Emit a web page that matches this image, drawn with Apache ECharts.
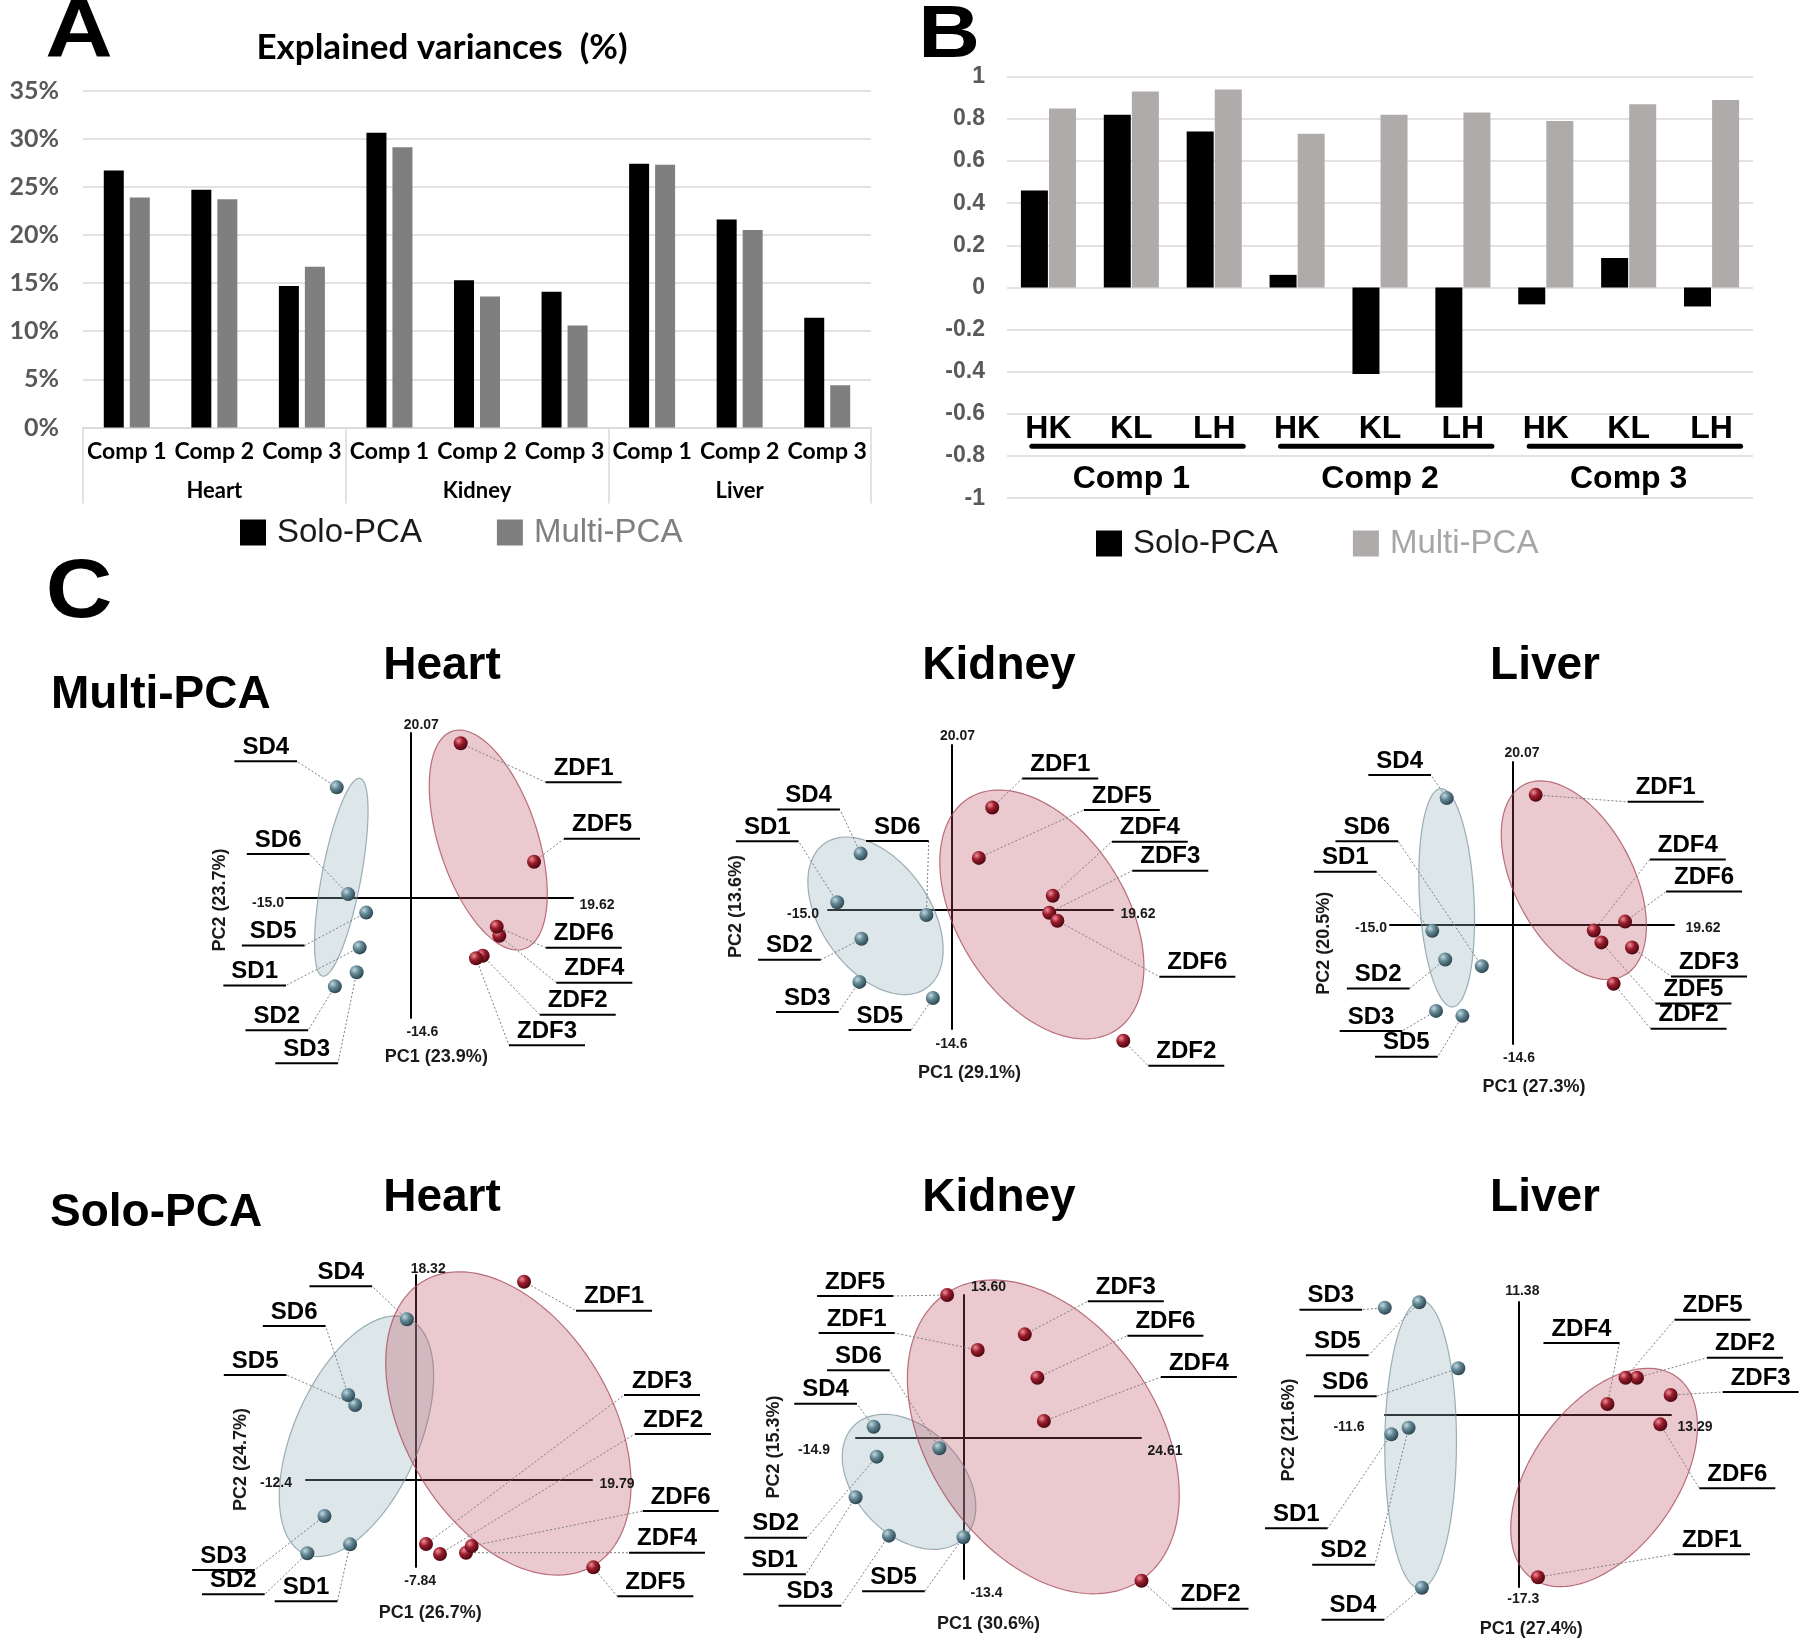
<!DOCTYPE html>
<html>
<head>
<meta charset="utf-8">
<title>Solo-PCA vs Multi-PCA</title>
<script src="https://cdn.jsdelivr.net/npm/echarts@6/dist/echarts.min.js"></script>
<style>
html, body { margin: 0; padding: 0; background: #fff; }
#main { width: 1800px; height: 1642px; }
</style>
</head>
<body>
<div id="main"></div>
<script>
// ---- A: explained variances (%), organ x component
const organs = ['Heart', 'Kidney', 'Liver'];
const comps = ['Comp 1', 'Comp 2', 'Comp 3'];
const soloVar  = [26.7, 24.7, 14.7, 30.6, 15.3, 14.1, 27.4, 21.6, 11.4];
const multiVar = [23.9, 23.7, 16.7, 29.1, 13.6, 10.6, 27.3, 20.5, 4.4];

// ---- B: correlations between organ pairs, per component
const pairs = ['HK', 'KL', 'LH'];
const soloCorr  = [0.46, 0.82, 0.74, 0.06, -0.41, -0.57, -0.08, 0.14, -0.09];
const multiCorr = [0.85, 0.93, 0.94, 0.73, 0.82, 0.83, 0.79, 0.87, 0.89];

// ---- C: PCA scores [PC1, PC2], samples 1..6
const sdNames  = ['SD1', 'SD2', 'SD3', 'SD4', 'SD5', 'SD6'];
const zdfNames = ['ZDF1', 'ZDF2', 'ZDF3', 'ZDF4', 'ZDF5', 'ZDF6'];

const multiHeartSD   = [[-6.11, -6.01], [-9.11, -10.75], [-6.48, -9.04], [-8.88, 13.46], [-5.33, -1.78], [-7.50, 0.47]];
const multiHeartZDF  = [[6.07, 18.82], [8.73, -7.02], [7.92, -7.34], [10.73, -4.59], [14.92, 4.41], [10.42, -3.49]];
const multiKidneySD  = [[-13.88, 0.87], [-10.94, -3.59], [-11.19, -8.85], [-11.04, 6.81], [-2.26, -10.81], [-3.05, -0.68]];
const multiKidneyZDF = [[4.95, 12.44], [20.87, -16.03], [11.88, -0.40], [12.30, 1.67], [3.32, 6.29], [12.86, -1.38]];
const multiLiverSD   = [[-9.85, -0.69], [-8.27, -4.22], [-9.39, -10.53], [-8.09, 15.63], [-6.18, -11.14], [-3.81, -5.03]];
const multiLiverZDF  = [[2.76, 16.03], [12.26, -7.19], [14.50, -2.73], [9.84, -0.64], [10.77, -2.11], [13.66, 0.45]];
const soloHeartSD    = [[-7.44, -5.81], [-12.25, -6.61], [-10.32, -3.27], [-1.05, 14.35], [-6.87, 6.67], [-7.65, 7.57]];
const soloHeartZDF   = [[12.14, 17.72], [2.68, -6.67], [1.11, -5.78], [5.61, -6.56], [19.94, -7.87], [6.25, -5.96]];
const soloKidneySD   = [[-14.96, -5.63], [-12.03, -1.77], [-10.34, -9.28], [-12.46, 1.08], [0.0, -9.43], [-3.34, -0.97]];
const soloKidneyZDF  = [[1.97, 8.37], [24.68, -13.56], [8.50, 9.86], [11.15, 1.62], [-2.27, 13.60], [10.25, 5.74]];
const soloLiverSD    = [[-11.05, -1.93], [-9.55, -1.27], [-11.62, 10.81], [-8.39, -17.37], [-8.62, 11.35], [-5.22, 4.71]];
const soloLiverZDF   = [[1.71, -16.32], [10.33, 3.76], [13.26, 2.02], [7.76, 1.12], [9.33, 3.76], [12.36, -0.93]];

// group ellipses: [centre PC1, centre PC2, half-width PC1, half-height PC2, correlation]  (SD, ZDF)
const multiHeartEll  = [[-8.33, 2.52, 3.23, 12.04, 0.67], [9.40, 7.05, 7.12, 13.38, -0.49]];
const multiKidneyEll = [[-9.23, -0.78, 8.22, 9.62, -0.43], [10.98, -0.62, 12.40, 15.20, -0.42]];
const multiLiverEll  = [[-8.09, 3.38, 3.40, 13.42, -0.20], [7.41, 5.54, 8.85, 12.21, -0.46]];
const soloHeartEll   = [[-6.72, 3.87, 8.69, 10.78, 0.50], [10.38, 5.02, 13.81, 13.59, -0.40]];
const soloKidneyEll  = [[-7.55, -4.16, 9.26, 6.42, -0.37], [11.07, 0.11, 18.85, 14.92, -0.37]];
const soloLiverEll   = [[-8.50, -2.96, 3.12, 14.47, 0.02], [7.47, -6.28, 8.13, 10.99, 0.47]];

// axis extents [min, max]
const multiPC1 = [-15.0, 19.62], multiPC2 = [-14.6, 20.07];
const soloHeartPC1 = [-12.4, 19.79], soloHeartPC2 = [-7.84, 18.32];
const soloKidneyPC1 = [-14.9, 24.61], soloKidneyPC2 = [-13.4, 13.60];
const soloLiverPC1 = [-11.6, 13.29], soloLiverPC2 = [-17.3, 11.38];

const plots = [
  { sd: multiHeartSD, zdf: multiHeartZDF, ell: multiHeartEll, xr: multiPC1, yr: multiPC2, v: multiVar, o: 0 },
  { sd: multiKidneySD, zdf: multiKidneyZDF, ell: multiKidneyEll, xr: multiPC1, yr: multiPC2, v: multiVar, o: 1 },
  { sd: multiLiverSD, zdf: multiLiverZDF, ell: multiLiverEll, xr: multiPC1, yr: multiPC2, v: multiVar, o: 2 },
  { sd: soloHeartSD, zdf: soloHeartZDF, ell: soloHeartEll, xr: soloHeartPC1, yr: soloHeartPC2, v: soloVar, o: 0 },
  { sd: soloKidneySD, zdf: soloKidneyZDF, ell: soloKidneyEll, xr: soloKidneyPC1, yr: soloKidneyPC2, v: soloVar, o: 1 },
  { sd: soloLiverSD, zdf: soloLiverZDF, ell: soloLiverEll, xr: soloLiverPC1, yr: soloLiverPC2, v: soloVar, o: 2 }
];

// ---- layout (pixels): grid rect, axis-text offsets, label offsets from each point
const plotLayout = [
  { grid: [286, 733, 287, 285],
    ends: { top: [11, -8], left: [-18, 5], right: [24, 7], bottom: [12, 14], pc1: [26, 39], pc2: [-66, 2] },
    labels: [[-105, 38], [-58, 44], [-50, 91], [-71, -26], [-93, 33], [-70, -40],
             [123, 39], [95, 59], [71, 87], [95, 47], [68, -23], [87, 21]] },
  { grid: [828, 745, 285, 284],
    ends: { top: [6, -9], left: [-25, 5], right: [25, 5], bottom: [0, 15], pc1: [18, 44], pc2: [-92, -3] },
    labels: [[-70, -61], [-72, 21], [-52, 30], [-52, -44], [-53, 32], [-29, -74],
             [68, -29], [63, 25], [121, -42], [97, -54], [143, -48], [140, 56]] },
  { grid: [1390, 762, 284, 282],
    ends: { top: [9, -9], left: [-19, 3], right: [29, 3], bottom: [6, 14], pc1: [21, 43], pc2: [-66, 18] },
    labels: [[-87, -59], [-67, 29], [-65, 20], [-47, -23], [-56, 41], [-115, -125],
             [130, 7], [75, 45], [77, 29], [94, -71], [92, 61], [79, -30]] },
  { grid: [306, 1275, 286, 292],
    ends: { top: [12, -6], left: [-30, 4], right: [25, 5], bottom: [4, 14], pc1: [14, 46], pc2: [-65, -20] },
    labels: [[-44, 57], [-74, 41], [-101, 54], [-66, -33], [-100, -30], [-54, -69],
             [90, 29], [233, -120], [236, -149], [201, 0], [62, 29], [209, -35]] },
  { grid: [856, 1295, 285, 284],
    ends: { top: [25, -8], left: [-42, 12], right: [24, 13], bottom: [23, 14], pc1: [25, 45], pc2: [-82, 9] },
    labels: [[-81, 77], [-101, 81], [-79, 70], [-48, -23], [-70, 54], [-81, -78],
             [-121, -17], [69, 28], [101, -33], [155, -44], [-92, 1], [128, -42]] },
  { grid: [1385, 1302, 286, 285],
    ends: { top: [4, -11], left: [-36, 12], right: [24, 12], bottom: [5, 12], pc1: [13, 42], pc2: [-96, 15] },
    labels: [[-95, 94], [-65, 137], [-54, 2], [-69, 32], [-82, 53], [-113, 28],
             [174, -23], [108, -20], [90, -3], [-26, -61], [87, -58], [77, 64]] }
];

const ARIAL = '"Liberation Sans", Arial, Helvetica, sans-serif';
const CALI = 'Lato, "Liberation Sans", sans-serif';
const LABEL_FONT = 'bold 24px ' + ARIAL;
const TICK_FONT = 'bold 14px ' + ARIAL;
const PC_FONT = 'bold 18px ' + ARIAL;

const sdBall = new echarts.graphic.RadialGradient(0.35, 0.32, 0.7, [
  { offset: 0, color: '#c4d8de' }, { offset: 0.45, color: '#628795' }, { offset: 1, color: '#2c4650' }]);
const zdfBall = new echarts.graphic.RadialGradient(0.35, 0.32, 0.7, [
  { offset: 0, color: '#ef8f98' }, { offset: 0.45, color: '#9a1c2c' }, { offset: 1, color: '#4a0710' }]);

const measureCtx = document.createElement('canvas').getContext('2d');
function textWidth(s, font) { measureCtx.font = font; return measureCtx.measureText(s).width; }

function txt(text, x, y, font, align, fill, rotation, scaleX) {
  return {
    type: 'text', x: x, y: y, rotation: rotation || 0, scaleX: scaleX || 1, silent: true,
    style: { text: text, x: 0, y: 0, font: font, fill: fill || '#000',
      align: align || 'center', verticalAlign: 'middle',
      textAlign: align || 'center', textVerticalAlign: 'middle' }
  };
}

function ellipseItem(params, api) {
  const cx = api.value(0), cy = api.value(1), hx = api.value(2), hy = api.value(3), r = api.value(4);
  const k = Math.sqrt(1 - r * r);
  const pts = [];
  for (let j = 0; j < 120; j++) {
    const t = j / 120 * Math.PI * 2, c = Math.cos(t), s = Math.sin(t);
    pts.push(api.coord([cx + hx * c, cy + hy * (r * c + k * s)]));
  }
  const zdf = params.dataIndex === 1;
  return {
    type: 'polygon', shape: { points: pts },
    style: zdf
      ? { fill: 'rgba(185, 80, 95, 0.30)', stroke: 'rgba(165, 70, 85, 0.75)', lineWidth: 1.2 }
      : { fill: 'rgba(150, 178, 188, 0.32)', stroke: 'rgba(120, 145, 155, 0.7)', lineWidth: 1.2 }
  };
}

function labelItem(params, api, names, offs) {
  const i = params.dataIndex;
  const pt = api.coord([api.value(0), api.value(1)]);
  const ux = pt[0] + offs[i][0], uy = pt[1] + offs[i][1];
  const w = textWidth(names[i], LABEL_FONT) + 16;
  const endX = pt[0] > ux ? ux + w / 2 : ux - w / 2;
  return {
    type: 'group', children: [
      { type: 'line', shape: { x1: pt[0], y1: pt[1], x2: endX, y2: uy },
        style: { stroke: '#808080', lineWidth: 1, lineDash: [2, 2] } },
      { type: 'line', shape: { x1: ux - w / 2, y1: uy, x2: ux + w / 2, y2: uy },
        style: { stroke: '#000', lineWidth: 2 } },
      txt(names[i], ux, uy - 14, LABEL_FONT)
    ]
  };
}

function axisTextItem(api, p, e) {
  const top = api.coord([0, p.yr[1]]), bot = api.coord([0, p.yr[0]]);
  const left = api.coord([p.xr[0], 0]), right = api.coord([p.xr[1], 0]);
  const at = (a, off) => [a[0] + off[0], a[1] + off[1]];
  const lo = v => v.toPrecision(3), hi = v => v.toPrecision(4);
  const list = [
    [hi(p.yr[1]), at(top, e.top), TICK_FONT, 0],
    [lo(p.xr[0]), at(left, e.left), TICK_FONT, 0],
    [hi(p.xr[1]), at(right, e.right), TICK_FONT, 0],
    [lo(p.yr[0]), at(bot, e.bottom), TICK_FONT, 0],
    ['PC1 (' + p.v[p.o * 3].toFixed(1) + '%)', at(bot, e.pc1), PC_FONT, 0],
    ['PC2 (' + p.v[p.o * 3 + 1].toFixed(1) + '%)', at(left, e.pc2), PC_FONT, Math.PI / 2]
  ];
  return { type: 'group', children: list.map(d => txt(d[0], d[1][0], d[1][1], d[2], 'center', '#1a1a1a', d[3])) };
}

// ---- categories
const varCats = [];
organs.forEach(o => comps.forEach(c => varCats.push(o + '|' + c)));
const corrCats = [];
comps.forEach(c => pairs.forEach(p => corrCats.push(c + '|' + p)));

const gridLine = { lineStyle: { color: '#d9d9d9', width: 1.5 } };

const grids = [
  { left: 83, top: 90.5, width: 788, height: 337 },
  { left: 1007, top: 76.8, width: 746, height: 421.4 }
];
const xAxes = [
  { type: 'category', gridIndex: 0, data: varCats,
    axisLine: { onZero: false, lineStyle: { color: '#d9d9d9', width: 1.5 } }, axisTick: { show: false },
    axisLabel: { interval: 0, margin: 13, formatter: v => v.split('|')[1], color: '#000',
      fontFamily: CALI, fontWeight: 'bold', fontSize: 23 } },
  { type: 'category', gridIndex: 0, position: 'bottom', data: organs,
    axisLine: { show: false, onZero: false },
    axisTick: { show: true, length: 76, interval: 0, lineStyle: { color: '#d9d9d9', width: 1.5 } },
    axisLabel: { margin: 52, color: '#000', fontFamily: CALI, fontWeight: 'bold', fontSize: 22 } },
  { type: 'category', gridIndex: 1, position: 'bottom', offset: -93, data: corrCats,
    axisLine: { show: false, onZero: false }, axisTick: { show: false },
    axisLabel: { interval: 0, margin: 8, formatter: v => v.split('|')[1], color: '#000',
      fontFamily: ARIAL, fontWeight: 'bold', fontSize: 32 } },
  { type: 'category', gridIndex: 1, position: 'bottom', offset: -43, data: comps,
    axisLine: { show: false, onZero: false }, axisTick: { show: false },
    axisLabel: { margin: 8, color: '#000', fontFamily: ARIAL, fontWeight: 'bold', fontSize: 32 } }
];
const yAxes = [
  { type: 'value', gridIndex: 0, min: 0, max: 35, interval: 5,
    axisLine: { show: false }, axisTick: { show: false }, splitLine: gridLine,
    axisLabel: { formatter: '{value}%', margin: 24, color: '#595959', fontFamily: CALI, fontWeight: 'bold', fontSize: 25 } },
  { type: 'value', gridIndex: 1, min: -1, max: 1, interval: 0.2,
    axisLine: { show: false }, axisTick: { show: false }, splitLine: gridLine,
    axisLabel: { formatter: v => String(+v.toFixed(1)), margin: 22, color: '#595959',
      fontFamily: ARIAL, fontWeight: 'bold', fontSize: 23 } }
];

const series = [
  { type: 'bar', name: 'Solo-PCA', xAxisIndex: 0, yAxisIndex: 0, data: soloVar,
    barWidth: 20, barGap: '30%', itemStyle: { color: '#000' } },
  { type: 'bar', name: 'Multi-PCA', xAxisIndex: 0, yAxisIndex: 0, data: multiVar,
    barWidth: 20, barGap: '30%', itemStyle: { color: '#7f7f7f' } },
  { type: 'bar', name: 'Solo-PCA (B)', xAxisIndex: 2, yAxisIndex: 1, data: soloCorr,
    barWidth: 27, barGap: '4%', itemStyle: { color: '#000' } },
  { type: 'bar', name: 'Multi-PCA (B)', xAxisIndex: 2, yAxisIndex: 1, data: multiCorr,
    barWidth: 27, barGap: '4%', itemStyle: { color: '#afabab' } },
  { type: 'custom', name: 'group rule', xAxisIndex: 2, yAxisIndex: 1, silent: true, clip: false, z: 3,
    data: comps.map((c, g) => [g * pairs.length, g * pairs.length + pairs.length - 1]),
    renderItem: (params, api) => {
      const a = api.coord([api.value(0), 0]), b = api.coord([api.value(1), 0]);
      const bw = api.size([1, 0])[0];
      const y = api.coord([0, -1])[1] - 52;
      return { type: 'line', shape: { x1: a[0] - 0.2 * bw, y1: y, x2: b[0] + 0.35 * bw, y2: y },
        style: { stroke: '#000', lineWidth: 5, lineCap: 'round' } };
    } }
];

plots.forEach((p, i) => {
  const L = plotLayout[i];
  const gi = grids.length;
  grids.push({ left: L.grid[0], top: L.grid[1], width: L.grid[2], height: L.grid[3] });
  const axisBase = {
    type: 'value', gridIndex: gi,
    axisLine: { show: true, onZero: true, lineStyle: { color: '#000', width: 2 } },
    axisTick: { show: false }, axisLabel: { show: false }, splitLine: { show: false }
  };
  const xi = xAxes.length, yi = yAxes.length;
  xAxes.push(Object.assign({ min: p.xr[0], max: p.xr[1] }, axisBase));
  yAxes.push(Object.assign({ min: p.yr[0], max: p.yr[1] }, axisBase));
  const names = sdNames.concat(zdfNames);
  series.push(
    { type: 'custom', name: 'ellipse' + i, xAxisIndex: xi, yAxisIndex: yi, z: 1, silent: true, clip: false,
      data: p.ell, renderItem: ellipseItem },
    { type: 'custom', name: 'labels' + i, xAxisIndex: xi, yAxisIndex: yi, z: 3, silent: true, clip: false,
      data: p.sd.concat(p.zdf), renderItem: (params, api) => labelItem(params, api, names, L.labels) },
    { type: 'custom', name: 'axis text' + i, xAxisIndex: xi, yAxisIndex: yi, z: 3, silent: true, clip: false,
      data: [[0, 0]], renderItem: (params, api) => axisTextItem(api, p, L.ends) },
    { type: 'scatter', name: 'SD' + i, xAxisIndex: xi, yAxisIndex: yi, z: 5, clip: false,
      symbolSize: 14, data: p.sd, itemStyle: { color: sdBall, opacity: 1 } },
    { type: 'scatter', name: 'ZDF' + i, xAxisIndex: xi, yAxisIndex: yi, z: 5, clip: false,
      symbolSize: 14, data: p.zdf, itemStyle: { color: zdfBall, opacity: 1 } }
  );
});

const legendBase = {
  icon: 'rect', itemWidth: 26, itemHeight: 26, itemGap: 75, selectedMode: false,
  formatter: n => n.replace(' (B)', ''),
  textStyle: { fontFamily: ARIAL, fontSize: 33, padding: [0, 0, 0, 6] }
};

const graphics = [
  txt('A', 79, 33, 'bold 82px ' + ARIAL, 'center', '#000', 0, 1.14),
  txt('B', 949, 36, 'bold 75px ' + ARIAL, 'center', '#000', 0, 1.14),
  txt('C', 79, 594, 'bold 84px ' + ARIAL, 'center', '#000', 0, 1.1),
  txt('Explained variances  (%)', 442, 48, 'bold 35px ' + CALI),
  txt('Multi-PCA', 51, 695, 'bold 46px ' + ARIAL, 'left'),
  txt('Solo-PCA', 50, 1213, 'bold 46px ' + ARIAL, 'left')
];
const organX = [442, 999, 1545];
organs.forEach((o, k) => {
  graphics.push(txt(o, organX[k], 666, 'bold 46px ' + ARIAL));
  graphics.push(txt(o, organX[k], 1198, 'bold 46px ' + ARIAL));
});

const chart = echarts.init(document.getElementById('main'), null, { renderer: 'canvas' });
chart.setOption({
  animation: false,
  backgroundColor: '#fff',
  grid: grids,
  xAxis: xAxes,
  yAxis: yAxes,
  legend: [
    Object.assign({}, legendBase, { left: 235, top: 511,
      data: [{ name: 'Solo-PCA', textStyle: { color: '#1a1a1a' } }, { name: 'Multi-PCA', textStyle: { color: '#7f7f7f' } }] }),
    Object.assign({}, legendBase, { left: 1091, top: 522,
      data: [{ name: 'Solo-PCA (B)', textStyle: { color: '#1a1a1a' } }, { name: 'Multi-PCA (B)', textStyle: { color: '#a6a6a6' } }] })
  ],
  graphic: graphics,
  series: series
});
</script>
</body>
</html>
